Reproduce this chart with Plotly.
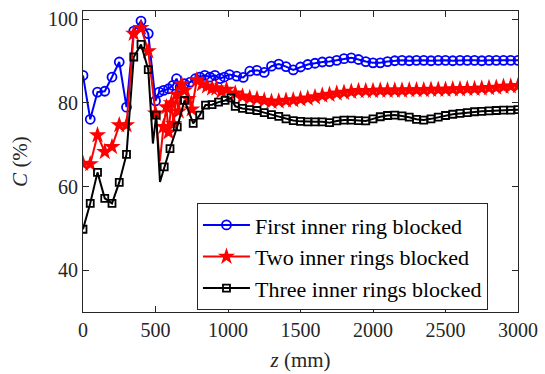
import plotly.graph_objects as go

# ---------------- data ----------------
z_first = [0, 50, 100, 150, 200, 250, 300, 350, 400, 450, 500,
           525, 555, 590, 620, 645, 670, 700, 740, 775, 805, 840, 875, 910, 945, 975, 1010,
           1060, 1105] + list(range(1150, 3001, 50))
c_first = [86.6, 76.1, 82.6, 82.8, 86.2, 89.8, 79.0, 97.2, 99.6, 96.6, 80.5,
           82.6, 83.0, 83.4, 84.2, 85.8, 83.8, 84.6, 85.0, 85.8, 86.2, 86.6, 86.2, 86.6, 85.8, 86.2, 86.8,
           86.4, 86.1,
           87.6, 87.8, 87.3, 88.8, 89.3, 88.7, 87.9, 88.6, 89.2, 89.5,
           89.8, 89.9, 90.2, 90.6, 90.8, 90.4, 89.9, 89.6, 89.6, 89.9,
           90.1, 90.2, 90.1, 90.2, 90.2, 90.1, 90.2, 90.2, 90.1, 90.2,
           90.2, 90.2, 90.1, 90.2, 90.2, 90.2, 90.2, 90.2]
first_nomarker = []

z_two = [0, 50, 100, 150, 200, 250, 300, 350, 400, 450, 500,
         530, 555, 575, 590, 610, 625, 645, 660, 680, 700, 725, 750, 785, 820, 855, 890, 920, 955, 990] \
        + list(range(1050, 3001, 50))
c_two = [65.5, 65.4, 72.3, 68.3, 69.5, 74.7, 74.7, 96.6, 98.0, 92.4, 77.5,
         66.0, 74.3, 79.0, 73.0, 80.0, 75.0, 82.0, 78.0, 84.5, 83.0, 81.0, 78.5, 85.5, 84.5, 84.0, 83.5, 83.5, 82.8, 83.2,
         82.3, 81.6, 81.2, 81.0, 80.6, 80.3, 80.4, 80.6, 80.7, 80.9,
         81.1, 81.4, 81.8, 82.0, 82.3, 82.5, 82.7, 82.9, 82.9, 82.9,
         83.0, 83.0, 83.0, 83.0, 83.1, 83.1, 83.1, 83.2, 83.2, 83.2,
         83.3, 83.3, 83.4, 83.4, 83.5, 83.6, 83.7, 83.9, 84.0, 84.1]
two_nomarker = [530]

z_three = [0, 50, 100, 150, 200, 250, 300, 350, 400, 450, 482, 505, 531,
           560, 600, 650, 700, 760, 805, 845, 890, 935, 980, 1020] + list(range(1050, 3001, 50))
c_three = [49.8, 56.0, 63.4, 57.2, 56.0, 61.0, 67.7, 91.0, 94.0, 88.0, 70.3, 77.1, 61.1,
           64.7, 69.1, 74.3, 80.6, 75.1, 77.1, 79.5, 79.6, 80.2, 80.6, 81.2,
           79.2, 78.7, 78.4, 78.2, 77.7, 77.2, 76.8, 76.2, 75.8, 75.6,
           75.5, 75.5, 75.5, 75.3, 75.7, 75.9, 75.9, 75.8, 75.7, 76.2,
           76.7, 77.0, 77.1, 76.9, 76.6, 76.1, 75.9, 76.2, 76.6, 77.0,
           77.3, 77.5, 77.7, 77.9, 78.0, 78.1, 78.2, 78.3, 78.3, 78.4]
three_nomarker = [482, 531]

names = ["First inner ring blocked", "Two inner rings blocked", "Three inner rings blocked"]
x_ticks = [0, 500, 1000, 1500, 2000, 2500, 3000]
y_ticks = [40, 60, 80, 100]

# ---------------- styles ----------------
FONT = "Liberation Serif"
series = [
    (z_first, c_first, first_nomarker, names[0], "#0000FF",
     dict(symbol="circle-open", size=9, color="#0000FF", line=dict(width=1.8, color="#0000FF"))),
    (z_two, c_two, two_nomarker, names[1], "#FF0000",
     dict(symbol="star", size=13, color="#FF0000", line=dict(width=0, color="#FF0000"))),
    (z_three, c_three, three_nomarker, names[2], "#000000",
     dict(symbol="square-open", size=7, color="#000000", line=dict(width=1.8, color="#000000"))),
]

fig = go.Figure()
for zs, cs, nm, name, col, mk in series:
    fig.add_trace(go.Scatter(x=zs, y=cs, mode="lines", line=dict(color=col, width=2),
                             showlegend=False, hoverinfo="skip"))
    mz = [z for z in zs if z not in nm]
    mc = [c for z, c in zip(zs, cs) if z not in nm]
    fig.add_trace(go.Scatter(x=mz, y=mc, mode="markers", marker=mk, showlegend=False))
for zs, cs, nm, name, col, mk in series:
    fig.add_trace(go.Scatter(x=[None], y=[None], mode="lines+markers", name=name,
                             line=dict(color=col, width=2), marker=mk))

axis_common = dict(showline=True, linecolor="#262626", linewidth=1, mirror="ticks",
                   ticks="inside", ticklen=6, tickwidth=1, tickcolor="#262626",
                   showgrid=False, zeroline=False, automargin=False,
                   tickfont=dict(family=FONT, size=20, color="#262626"))

fig.update_xaxes(range=[0, 3000], tickvals=x_ticks, ticktext=[str(v) for v in x_ticks],
                 title=dict(text="<i>z</i> (mm)", font=dict(family=FONT, size=21, color="#262626"),
                            standoff=12),
                 **axis_common)
fig.update_yaxes(range=[30, 102], tickvals=y_ticks, ticktext=[str(v) for v in y_ticks],
                 title=dict(text="<i>C</i> (%)", font=dict(family=FONT, size=21, color="#262626"),
                            standoff=14),
                 **axis_common)

fig.update_layout(
    width=545, height=374,
    margin=dict(l=83, r=27, t=11, b=62),
    paper_bgcolor="white", plot_bgcolor="white",
    font=dict(family=FONT, size=20, color="#000000"),
    legend=dict(x=0.262, y=0.184, xanchor="left", yanchor="middle",
                bgcolor="white", bordercolor="#262626", borderwidth=1,
                font=dict(family=FONT, size=22, color="#000000"),
                tracegroupgap=0, itemwidth=47),
)

fig.write_html("out.html", config={"displayModeBar": False},
               post_script="document.body.style.margin='0px';")
